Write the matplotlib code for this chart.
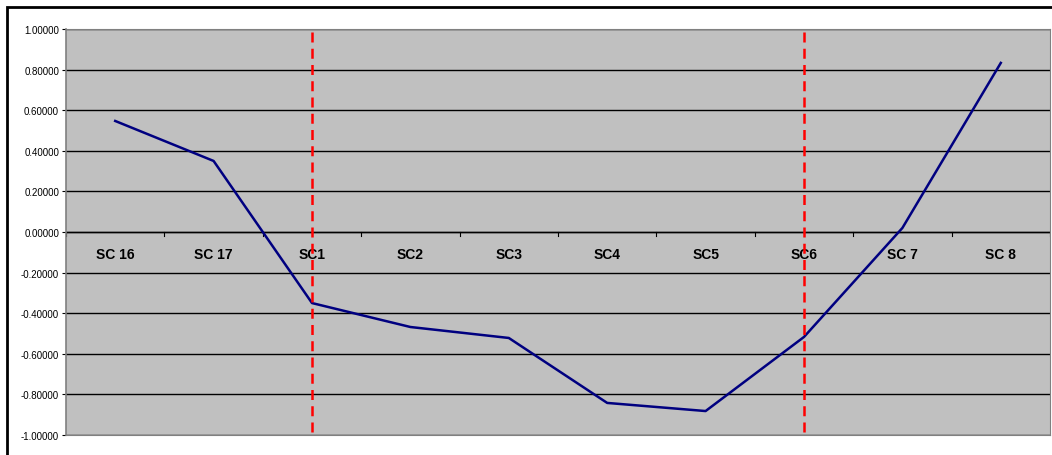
import numpy as np
import matplotlib
matplotlib.use("Agg")
import matplotlib.pyplot as plt
from matplotlib.patches import Rectangle

plt.rcParams['font.family'] = ['Liberation Sans', 'DejaVu Sans']

categories = ["SC 16", "SC 17", "SC1", "SC2", "SC3", "SC4", "SC5", "SC6", "SC 7", "SC 8"]
values = [0.547, 0.350, -0.350, -0.468, -0.522, -0.842, -0.882, -0.517, 0.020, 0.833]
marker_cats = ["SC1", "SC6"]

fig = plt.figure(figsize=(10.52, 4.56), dpi=100)
ax = fig.add_axes([66/1052, 1 - 436/456, (1050-66)/1052, (436-30)/456])

x = np.arange(len(categories))
ax.set_facecolor("#c0c0c0")
ax.set_xlim(-0.5, len(categories) - 0.5)
ax.set_ylim(-1.0, 1.0)

# grid
yt = np.round(np.linspace(-1.0, 1.0, 11), 2) + 0.0
ax.set_yticks(yt)
ax.set_yticklabels(["%.5f" % v for v in yt])
ax.grid(axis="y", color="black", linewidth=1.0)
ax.set_axisbelow(True)
ax.tick_params(axis="y", labelsize=7, length=3, width=0.8, pad=2, direction="out")

# category axis crossing at zero
ax.axhline(0, color="black", linewidth=1.0, zorder=2)
ax.set_xticks(np.arange(-0.5, len(categories), 1.0))
ax.set_xticklabels([])
ax.tick_params(axis="x", which="major", length=0)
for i, c in enumerate(categories):
    ax.text(x[i], -0.11, c, ha="center", va="center", fontsize=10, fontweight="bold", zorder=3)
for b in np.arange(-0.5, len(categories), 1.0):
    ax.plot([b, b], [0, -0.02], color="black", linewidth=0.8, zorder=2)

for s in ["top", "right", "bottom"]:
    ax.spines[s].set_color("#808080")
ax.spines["left"].set_color("#808080")
ax.spines["left"].set_linewidth(1.2)

ax.plot(x, values, color="#000080", linewidth=1.8, zorder=4)

for c in marker_cats:
    ax.axvline(categories.index(c), ymin=0.008, ymax=1.0, color="red", linestyle=(0, (4, 2.5)),
               linewidth=1.8, zorder=5)

fig.patches.append(Rectangle((7/1052, -0.1), 1.2, 1 - 8/456 + 0.1, transform=fig.transFigure,
                             fill=False, edgecolor="black", linewidth=2.0))

fig.savefig("out.png", dpi=100)
